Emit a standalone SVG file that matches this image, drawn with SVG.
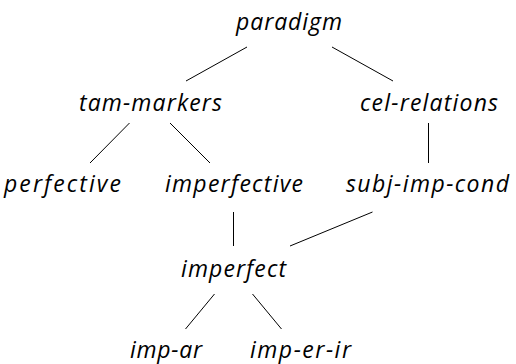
<svg xmlns="http://www.w3.org/2000/svg" width="516" height="364" viewBox="0 0 516 364">
<style>
.n text{font-family:"Open Sans","Noto Sans",sans-serif;font-style:italic;font-size:23px;fill:#000;text-anchor:middle}
.e line{stroke:#000;stroke-width:1}
</style>
<rect width="516" height="364" fill="#fff"/>
<g class="e" id="connectors">
<line x1="247" y1="47" x2="186" y2="81"/>
<line x1="332" y1="47" x2="393" y2="81"/>
<line x1="129.5" y1="123" x2="90" y2="163"/>
<line x1="170" y1="123" x2="210" y2="163"/>
<line x1="428.5" y1="123" x2="428.5" y2="163"/>
<line x1="233.5" y1="212" x2="233.5" y2="246"/>
<line x1="372.5" y1="212" x2="290" y2="246"/>
<line x1="214.5" y1="294" x2="185.5" y2="329"/>
<line x1="252.5" y1="294" x2="281.5" y2="329"/>
</g>
<g class="n" id="paradigm"><text x="289" y="29.5" textLength="106" lengthAdjust="spacing">paradigm</text></g>
<g class="n" id="tam-markers"><text x="150.5" y="111" textLength="143" lengthAdjust="spacing">tam-markers</text></g>
<g class="n" id="cel-relations"><text x="429" y="111" textLength="138" lengthAdjust="spacing">cel-relations</text></g>
<g class="n" id="perfective"><text x="62.5" y="192" textLength="117" lengthAdjust="spacing">perfective</text></g>
<g class="n" id="imperfective"><text x="234" y="192" textLength="138" lengthAdjust="spacing">imperfective</text></g>
<g class="n" id="subj-imp-cond"><text x="427.5" y="192" textLength="163" lengthAdjust="spacing">subj-imp-cond</text></g>
<g class="n" id="imperfect"><text x="233.5" y="276.5" textLength="105" lengthAdjust="spacing">imperfect</text></g>
<g class="n" id="imp-ar"><text x="166" y="358" textLength="72" lengthAdjust="spacing">imp-ar</text></g>
<g class="n" id="imp-er-ir"><text x="300.5" y="358" textLength="101" lengthAdjust="spacing">imp-er-ir</text></g>
</svg>
